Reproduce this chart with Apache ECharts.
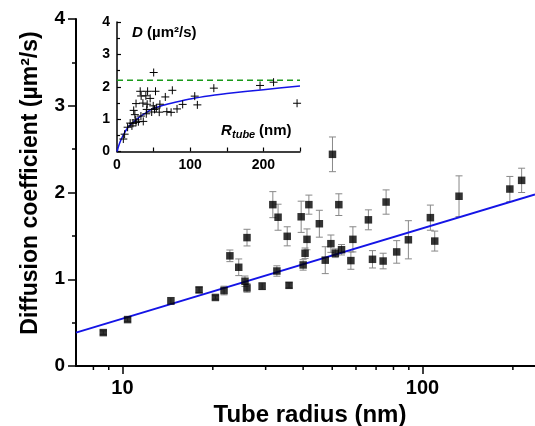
<!DOCTYPE html>
<html><head><meta charset="utf-8">
<script src="https://cdn.jsdelivr.net/npm/echarts@6/dist/echarts.min.js"></script>
<style>html,body{margin:0;padding:0;background:#fff}#c{width:535px;height:426px}</style>
</head><body><div id="c"></div>
<script>
// Tube radius (nm)
const radius = [8.63, 10.4, 14.5, 18.0, 20.4, 21.8, 22.8, 24.4, 25.6, 26.0, 26.0, 29.2, 31.7, 32.7, 33.0, 35.4, 35.9,
  39.4, 40.0, 40.6, 41.2, 41.8, 45.3, 47.4, 49.5, 50.1, 51.2, 52.6, 53.7, 57.7, 58.6, 66.0, 68.1, 73.9, 75.6,
  82.0, 89.7, 106.2, 109.8, 132.3, 195.4, 213.9, 246];
// Diffusion coefficient (µm²/s)
const diffusion = [0.385, 0.535, 0.75, 0.877, 0.79, 0.87, 1.27, 1.138, 0.977, 0.90, 1.48, 0.92, 1.86, 1.095, 1.715, 1.495, 0.93,
  1.72, 1.165, 1.30, 1.46, 1.86, 1.64, 1.22, 1.41, 2.44, 1.30, 1.86, 1.34, 1.215, 1.46, 1.685, 1.23, 1.21, 1.89,
  1.315, 1.455, 1.71, 1.44, 1.957, 2.04, 2.14, 1.49];
// error bar half-heights
const errors = [0.02, 0.02, 0.04, 0.03, 0.02, 0.05, 0.067, 0.096, 0.06, 0.05, 0.096, 0.04, 0.15, 0.06, 0.15, 0.11, 0.03,
  0.18, 0.06, 0.06, 0.12, 0.11, 0.155, 0.155, 0.10, 0.2, 0.05, 0.125, 0.06, 0.10, 0.145, 0.115, 0.10, 0.09, 0.14,
  0.13, 0.22, 0.145, 0.115, 0.235, 0.145, 0.14, 0.15];
// linear fit in log scale (main plot)
const fitX = [7, 237];
const fitY = [0.385, 1.977];
// inset model curve
const curveX = [0, 2.7, 5.4, 8.6, 13, 18, 25, 31, 40, 47, 63, 81, 102, 127, 150, 200, 250];
const curveY = [0, 0.2, 0.36, 0.51, 0.68, 0.82, 0.96, 1.07, 1.2, 1.3, 1.43, 1.53, 1.63, 1.72, 1.79, 1.91, 2.02];
// plateau (dashed)
const plateauX = [0, 250];
const plateauY = [2.2, 2.2];
// minor ticks on main log axis
const minorLogTicks = [8, 9, 20, 30, 40, 50, 60, 70, 80, 90, 200];

const FONT = 'Liberation Sans, Arial, sans-serif';
const pts = radius.map((r, i) => [r, diffusion[i], errors[i]]);
const chart = echarts.init(document.getElementById('c'), null, {renderer: 'canvas'});

const errRender = (params, api) => {
  const x = api.value(0), y = api.value(1), e = api.value(2);
  const hi = api.coord([x, y + e]);
  const lo = api.coord([x, y - e]);
  const st = {stroke: '#888', lineWidth: 1};
  const w = 3.5;
  return {type: 'group', children: [
    {type: 'line', shape: {x1: hi[0], y1: hi[1], x2: lo[0], y2: lo[1]}, style: st},
    {type: 'line', shape: {x1: hi[0] - w, y1: hi[1], x2: hi[0] + w, y2: hi[1]}, style: st},
    {type: 'line', shape: {x1: lo[0] - w, y1: lo[1], x2: lo[0] + w, y2: lo[1]}, style: st}
  ]};
};
const plusRender = (params, api) => {
  const p = api.coord([api.value(0), api.value(1)]);
  const s = 4, st = {stroke: '#000', lineWidth: 1};
  return {type: 'group', children: [
    {type: 'line', shape: {x1: p[0] - s, y1: p[1], x2: p[0] + s, y2: p[1]}, style: st},
    {type: 'line', shape: {x1: p[0], y1: p[1] - s, x2: p[0], y2: p[1] + s}, style: st}
  ]};
};
const minorRender = (params, api) => {
  const p = api.coord([api.value(0), 0]);
  return {type: 'line', shape: {x1: p[0], y1: p[1], x2: p[0], y2: p[1] + 4}, style: {stroke: '#000', lineWidth: 1.5}};
};

const option = {
  backgroundColor: '#fff',
  animation: false,
  grid: [
    {left: 76, top: 19, right: 0, bottom: 60},
    {left: 117, top: 22, width: 183, height: 129.5}
  ],
  xAxis: [
    {type: 'log', gridIndex: 0, min: 7, max: 237, logBase: 10,
     axisLine: {lineStyle: {color: '#000', width: 2}},
     axisTick: {length: 8, lineStyle: {color: '#000', width: 1.5}},
     axisLabel: {color: '#000', fontSize: 20, fontWeight: 'bold', fontFamily: FONT, margin: 12, showMinLabel: false, showMaxLabel: false},
     splitLine: {show: false}},
    {type: 'value', gridIndex: 1, min: 0, max: 250, interval: 50,
     axisLine: {lineStyle: {color: '#000', width: 1.5}},
     axisTick: {inside: true, length: 4, lineStyle: {color: '#000', width: 1.2}},
     axisLabel: {color: '#000', fontSize: 14, fontWeight: 'bold', fontFamily: FONT, margin: 7,
       formatter: v => (v % 100 === 0 ? String(v) : '')},
     splitLine: {show: false}}
  ],
  yAxis: [
    {type: 'value', gridIndex: 0, min: 0, max: 4, interval: 1,
     axisLine: {show: true, lineStyle: {color: '#000', width: 2}},
     axisTick: {show: true, length: 8, lineStyle: {color: '#000', width: 1.5}},
     minorTick: {show: true, splitNumber: 2, length: 4, lineStyle: {color: '#000', width: 1.5}},
     axisLabel: {color: '#000', fontSize: 19, fontWeight: 'bold', fontFamily: FONT, margin: 11},
     splitLine: {show: false}},
    {type: 'value', gridIndex: 1, min: 0, max: 4, interval: 1,
     axisLine: {show: true, lineStyle: {color: '#000', width: 1.5}},
     axisTick: {show: true, inside: true, length: 4, lineStyle: {color: '#000', width: 1.2}},
     minorTick: {show: true, splitNumber: 2, length: 3, lineStyle: {color: '#000', width: 1.2}},
     axisLabel: {color: '#000', fontSize: 14, fontWeight: 'bold', fontFamily: FONT, margin: 7},
     splitLine: {show: false}}
  ],
  series: [
    {type: 'custom', xAxisIndex: 0, yAxisIndex: 0, clip: true, renderItem: errRender, data: pts, z: 2},
    {type: 'line', xAxisIndex: 0, yAxisIndex: 0, data: fitX.map((x, i) => [x, fitY[i]]), symbol: 'none',
     lineStyle: {color: '#1414e6', width: 2}, z: 3},
    {type: 'scatter', xAxisIndex: 0, yAxisIndex: 0, clip: true, data: pts.map(p => [p[0], p[1]]), symbol: 'rect', symbolSize: 7.5,
     itemStyle: {color: '#000'}, z: 4},
    {type: 'custom', xAxisIndex: 0, yAxisIndex: 0, clip: false, renderItem: minorRender, data: minorLogTicks.map(v => [v]), z: 5},
    {type: 'line', xAxisIndex: 1, yAxisIndex: 1, data: plateauX.map((x, i) => [x, plateauY[i]]), symbol: 'none',
     lineStyle: {color: '#1a9a1a', width: 1.5, type: [6, 4]}, z: 3},
    {type: 'line', xAxisIndex: 1, yAxisIndex: 1, data: curveX.map((x, i) => [x, curveY[i]]), symbol: 'none', smooth: 0.3,
     lineStyle: {color: '#1414e6', width: 1.5}, z: 3},
    {type: 'custom', xAxisIndex: 1, yAxisIndex: 1, clip: false, renderItem: plusRender, data: pts.map(p => [p[0], p[1]]), z: 4}
  ],
  graphic: [
    {type: 'text', x: 31, y: 183, rotation: Math.PI / 2,
     style: {text: 'Diffusion coefficient (µm²/s)', fill: '#000', font: 'bold 23px ' + FONT, align: 'center', verticalAlign: 'middle'}},
    {type: 'text', x: 310, y: 415,
     style: {text: 'Tube radius (nm)', fill: '#000', font: 'bold 24px ' + FONT, align: 'center', verticalAlign: 'middle'}},
    {type: 'text', x: 132, y: 33,
     style: {text: '{i|D}{n| (µm²/s)}', verticalAlign: 'middle',
       rich: {i: {fontStyle: 'italic', fontWeight: 'bold', fontSize: 15, fontFamily: FONT, fill: '#000'},
              n: {fontWeight: 'bold', fontSize: 15, fontFamily: FONT, fill: '#000'}}}},
    {type: 'text', x: 221, y: 131,
     style: {text: 'R', fill: '#000', font: 'italic bold 15px ' + FONT, verticalAlign: 'middle'}},
    {type: 'text', x: 232, y: 135,
     style: {text: 'tube', fill: '#000', font: 'italic bold 11px ' + FONT, verticalAlign: 'middle'}},
    {type: 'text', x: 259, y: 131,
     style: {text: '(nm)', fill: '#000', font: 'bold 15px ' + FONT, verticalAlign: 'middle'}}
  ]
};
chart.setOption(option);
</script>
</body></html>
